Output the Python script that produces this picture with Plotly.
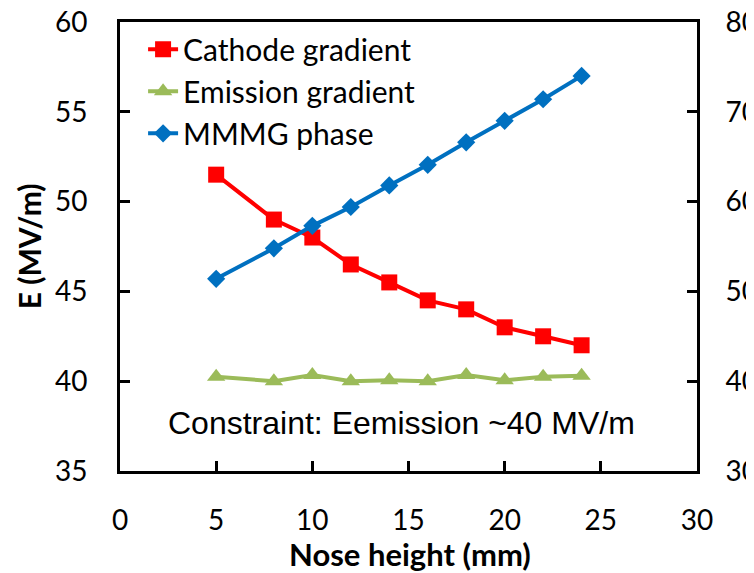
import plotly.graph_objects as go

nose_height = [5, 8, 10, 12, 14, 16, 18, 20, 22, 24]
cathode_gradient = [51.5, 49.0, 48.0, 46.5, 45.5, 44.5, 44.0, 43.0, 42.5, 42.0]
emission_gradient = [40.25, 40.0, 40.35, 40.0, 40.05, 40.0, 40.35, 40.05, 40.25, 40.3]
mmmg_phase = [51.4, 54.8, 57.3, 59.4, 61.8, 64.1, 66.6, 69.0, 71.4, 74.0]

x_ticks = [0, 5, 10, 15, 20, 25, 30]
y_ticks = [35, 40, 45, 50, 55, 60]
y2_ticks = [30, 40, 50, 60, 70, 80]

TICK_FONT = dict(family="Lato", size=28, color="black")

fig = go.Figure()
fig.add_trace(go.Scatter(
    x=nose_height, y=cathode_gradient, name="Cathode gradient",
    mode="lines+markers", legendgroup="a",
    line=dict(color="#FF0000", width=4),
    marker=dict(symbol="square", size=16, color="#FF0000"),
))
fig.add_trace(go.Scatter(
    x=nose_height, y=emission_gradient, name="Emission gradient",
    mode="lines+markers", legendgroup="b",
    line=dict(color="#9BBB59", width=4),
    marker=dict(symbol="triangle-up", size=16, color="#9BBB59"),
))
fig.add_trace(go.Scatter(
    x=nose_height, y=mmmg_phase, name="MMMG phase", yaxis="y2",
    mode="lines+markers", legendgroup="c",
    line=dict(color="#0070C0", width=4),
    marker=dict(symbol="diamond", size=14, color="#0070C0"),
))

fig.update_layout(
    width=754, height=573,
    margin=dict(l=112, r=65, t=14, b=110),
    paper_bgcolor="white", plot_bgcolor="white",
    xaxis=dict(
        range=[0, 30], tickvals=x_ticks, ticks="inside", ticklen=10,
        tickwidth=2.5, tickcolor="black", showline=True, linecolor="black",
        linewidth=3, mirror=True, showgrid=False, zeroline=False,
        tickfont=TICK_FONT, ticklabelstandoff=22, ticklabeloverflow="allow",
    ),
    yaxis=dict(
        range=[35, 60], tickvals=y_ticks, ticks="inside", ticklen=10,
        tickwidth=2.5, tickcolor="black", showline=True, linecolor="black",
        linewidth=3, showgrid=False, zeroline=False,
        tickfont=TICK_FONT, ticklabelstandoff=24, automargin=False,
        ticklabeloverflow="allow",
    ),
    yaxis2=dict(
        range=[30, 80], tickvals=y2_ticks, overlaying="y", side="right",
        ticks="inside", ticklen=10, tickwidth=2.5, tickcolor="black",
        showline=True, linecolor="black", linewidth=3, showgrid=False,
        zeroline=False, tickfont=TICK_FONT, ticklabelstandoff=20,
        automargin=False, ticklabeloverflow="allow",
    ),
    legend=dict(
        x=0.04, y=0.997, xanchor="left", yanchor="top",
        bgcolor="rgba(0,0,0,0)", font=dict(family="Lato", size=30, color="black"),
        tracegroupgap=0, itemwidth=30,
    ),
    showlegend=True,
    annotations=[
        dict(text="Constraint: Eemission ~40 MV/m", x=14.66, y=37.67,
             xref="x", yref="y", showarrow=False, xanchor="center", yanchor="middle",
             font=dict(family="Liberation Sans", size=32, color="black")),
        dict(text="<b>Nose height (mm)</b>", x=0.503, y=-0.185, xref="paper", yref="paper",
             showarrow=False, xanchor="center", yanchor="middle",
             font=dict(family="Lato", size=31, color="black")),
        dict(text="<b>E (MV/m)</b>", x=-0.158, y=0.5, xref="paper", yref="paper",
             showarrow=False, xanchor="center", yanchor="middle", textangle=-90,
             font=dict(family="Lato", size=30, color="black")),
    ],
)

fig.write_html("out.html")
